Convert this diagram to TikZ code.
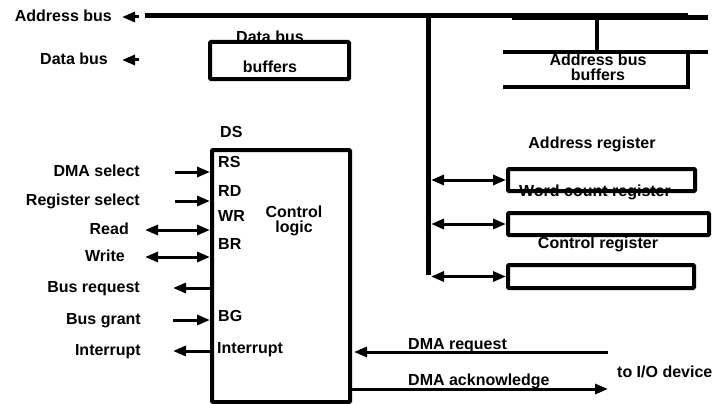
\documentclass[tikz,border=0pt]{standalone}
\usepackage{fontspec}
\setmainfont{Liberation Sans}
\usepackage{xcolor}
\usetikzlibrary{arrows.meta}
\definecolor{fg}{HTML}{000000}

\begin{document}
\begin{tikzpicture}[x=1pt,y=-1pt,
  lbl/.style={font=\fontsize{16}{14}\selectfont\bfseries,text=fg,inner sep=0pt,
    text height=11.5pt,text depth=3.4pt},
  box/.style={draw=fg,line width=4pt,rounded corners=1pt,inner sep=0pt},
  sig/.style={draw=fg,line width=3pt,-{Triangle[length=13pt,width=10pt]}},
  bisig/.style={draw=fg,line width=3pt,{Triangle[length=13pt,width=10pt]}-{Triangle[length=13pt,width=10pt]}},
  bus/.style={draw=fg,line width=5pt}]
  \useasboundingbox (0,0) rectangle (720,404);

  % system bus side
  \node[lbl,anchor=east] (addrbus) at (112,17) {Address bus};
  \node[lbl,anchor=east] (databus) at (108,60) {Data bus};
  \draw[sig] ([xshift=27pt]addrbus.east) -- ([xshift=10pt]addrbus.east);
  \draw[sig] ([xshift=31pt]databus.east) -- ([xshift=14pt]databus.east);

  \coordinate (busL) at (145,16);
  \coordinate (busR) at (688,16);
  \coordinate (busT) at (428,16);
  \coordinate (busB) at (428,275);
  \coordinate (abufT) at (597,16);
  \draw[bus] (busL) -- (busR);
  \draw[bus] (512,18) -- (708,18);
  \draw[bus] (busT) -- (busB);

  % buffers
  \node[box,minimum width=139pt,minimum height=37pt] (dbuf) at (279.5,60.5) {};
  \node[lbl] (dbuftop) at (270,38) {Data bus};
  \node[lbl] (dbufbot) at (270,68) {buffers};

  \node[lbl,align=center,font=\fontsize{16}{15}\selectfont\bfseries,text height=,text depth=]
    (abuf) at (598,67) {Address bus\\buffers};
  \draw[draw=fg,line width=4pt] (503,52) -- (708,52);
  \draw[draw=fg,line width=4pt] (688,52) -- (688,88) (503,87) -- (690,87);
  \draw[draw=fg,line width=4pt] (abufT) -- (abufT |- 0,52);

  % control logic
  \node[box,anchor=north west,minimum width=138pt,minimum height=252pt] (ctrl) at (210,148) {};
  \node[lbl,anchor=west] (ds) at (220,133) {DS};
  \node[lbl,anchor=west] (rs) at (218,163) {RS};
  \node[lbl,anchor=west] (rd) at (218,192) {RD};
  \node[lbl,anchor=west] (wr) at (218,217) {WR};
  \node[lbl,anchor=west] (br) at (218,245) {BR};
  \node[lbl,anchor=west] (bg) at (218,317) {BG};
  \node[lbl,anchor=west] (intport) at (217,349) {Interrupt};
  \node[lbl,align=center,font=\fontsize{16}{15}\selectfont\bfseries,text height=,text depth=]
    (ctrltxt) at (294,221) {Control\\logic};

  \node[lbl,anchor=east] (dmasel) at (140,172) {DMA select};
  \node[lbl,anchor=east] (regsel) at (140,201) {Register select};
  \node[lbl,anchor=east] (rdlbl) at (129,230) {Read};
  \node[lbl,anchor=east] (wrlbl) at (125,257) {Write};
  \node[lbl,anchor=east] (busreq) at (140,288) {Bus request};
  \node[lbl,anchor=east] (busgnt) at (141,320) {Bus grant};
  \node[lbl,anchor=east] (intlbl) at (141,351) {Interrupt};

  \draw[sig] ([xshift=35pt]dmasel.east) -- (dmasel.east -| ctrl.west);
  \draw[sig] ([xshift=35pt]regsel.east) -- (regsel.east -| ctrl.west);
  \draw[bisig] ([xshift=16pt]rdlbl.east) -- (rdlbl.east -| ctrl.west);
  \draw[bisig] ([xshift=20pt]wrlbl.east) -- (wrlbl.east -| ctrl.west);
  \draw[sig] (busreq.east -| ctrl.west) -- ([xshift=33pt]busreq.east);
  \draw[sig] ([xshift=32pt]busgnt.east) -- (busgnt.east -| ctrl.west);
  \draw[sig] (intlbl.east -| ctrl.west) -- ([xshift=32pt]intlbl.east);

  % registers
  \node[box,minimum width=187pt,minimum height=22pt] (adreg) at (601.5,180) {};
  \node[box,minimum width=201pt,minimum height=22pt] (wcreg) at (608.5,224) {};
  \node[box,minimum width=186pt,minimum height=23pt] (ctreg) at (601,276.5) {};
  \node[lbl] (adregtxt) at (592,144) {Address register};
  \node[lbl] (wcregtxt) at (595,192) {Word count register};
  \node[lbl] (ctregtxt) at (598,244) {Control register};
  \draw[bisig,shorten <=3pt] (busB |- adreg.west) -- (adreg.west);
  \draw[bisig,shorten <=3pt] (busB |- wcreg.west) -- (wcreg.west);
  \draw[bisig,shorten <=3pt] (busB |- ctreg.west) -- (ctreg.west);

  % I/O device side
  \coordinate (ioreq) at (608,352);
  \coordinate (ioack) at (608,389);
  \node[lbl,anchor=west] (dmareq) at (408,345) {DMA request};
  \node[lbl,anchor=west] (dmaack) at (408,381) {DMA acknowledge};
  \node[lbl,anchor=west] (iodev) at (617,373) {to I/O device};
  \draw[sig,shorten >=2pt] (ioreq) -- (ioreq -| ctrl.east);
  \draw[sig] (ioack -| ctrl.east) -- (ioack);
\end{tikzpicture}
\end{document}
